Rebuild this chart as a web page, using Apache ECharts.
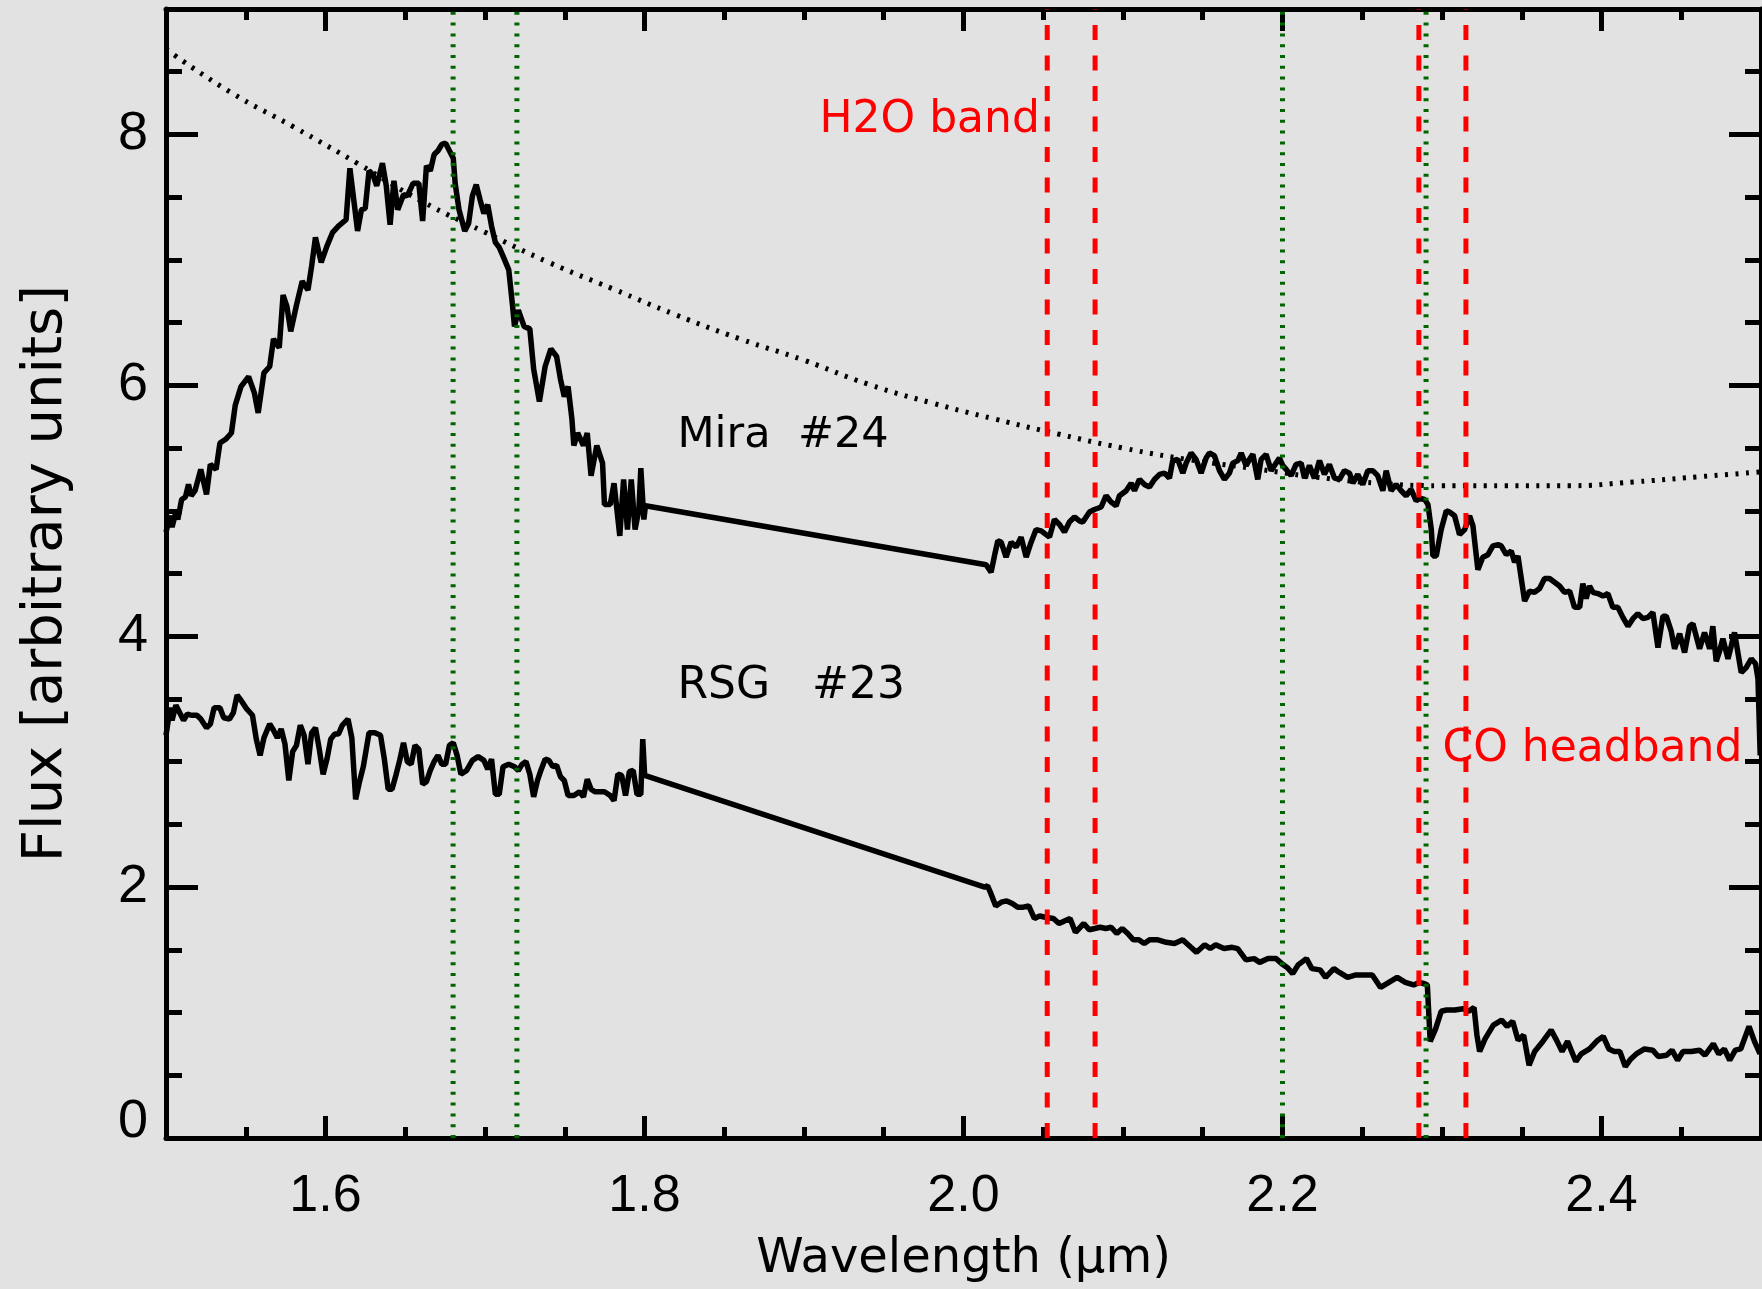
<!DOCTYPE html>
<html><head><meta charset="utf-8">
<script src="https://cdn.jsdelivr.net/npm/echarts@6/dist/echarts.min.js"></script>
<style>html,body{margin:0;padding:0;background:#e2e2e2;}#c{width:1762px;height:1289px;}</style>
</head><body><div id="c"></div>
<script>
// ---- data: [wavelength (micron), flux] ----
const miraSpectrum = [
[1.5000,4.83],[1.5026,4.96],[1.5038,4.87],[1.5062,4.99],[1.5074,4.93],[1.5098,5.09],[1.5122,5.11],[1.5141,5.21],[1.5158,5.12],[1.5182,5.16],[1.5218,5.33],[1.5254,5.13],[1.5278,5.37],[1.5314,5.33],[1.5338,5.54],[1.5374,5.57],[1.5410,5.62],[1.5434,5.84],[1.5470,5.99],[1.5518,6.07],[1.5554,5.94],[1.5578,5.78],[1.5614,6.10],[1.5650,6.15],[1.5674,6.37],[1.5710,6.30],[1.5734,6.72],[1.5758,6.63],[1.5782,6.43],[1.5818,6.64],[1.5854,6.83],[1.5890,6.76],[1.5913,6.95],[1.5937,7.18],[1.5973,6.98],[1.6009,7.11],[1.6045,7.22],[1.6081,7.27],[1.6129,7.32],[1.6153,7.73],[1.6177,7.48],[1.6201,7.23],[1.6225,7.40],[1.6249,7.41],[1.6273,7.71],[1.6297,7.68],[1.6321,7.59],[1.6357,7.77],[1.6381,7.59],[1.6405,7.28],[1.6429,7.63],[1.6453,7.40],[1.6489,7.52],[1.6513,7.51],[1.6549,7.61],[1.6585,7.61],[1.6609,7.31],[1.6633,7.75],[1.6657,7.71],[1.6681,7.84],[1.6705,7.87],[1.6729,7.92],[1.6753,7.93],[1.6777,7.87],[1.6801,7.81],[1.6813,7.61],[1.6837,7.40],[1.6873,7.23],[1.6897,7.29],[1.6921,7.51],[1.6945,7.60],[1.6969,7.48],[1.6993,7.37],[1.7017,7.44],[1.7041,7.27],[1.7065,7.14],[1.7089,7.10],[1.7113,7.03],[1.7149,6.92],[1.7173,6.63],[1.7185,6.47],[1.7209,6.60],[1.7245,6.47],[1.7281,6.45],[1.7305,6.13],[1.7341,5.87],[1.7377,6.15],[1.7413,6.29],[1.7449,6.23],[1.7473,6.05],[1.7497,5.91],[1.7521,5.99],[1.7545,5.73],[1.7557,5.52],[1.7581,5.62],[1.7617,5.52],[1.7641,5.62],[1.7665,5.28],[1.7701,5.52],[1.7737,5.38],[1.7749,5.05],[1.7785,5.05],[1.7809,5.22],[1.7845,4.80],[1.7869,5.25],[1.7893,4.85],[1.7917,5.25],[1.7941,4.85],[1.7965,5.01],[1.7977,5.34],[1.7996,4.93],[1.8006,5.04],
[2.0142,4.57],[2.0173,4.51],[2.0194,4.64],[2.0215,4.76],[2.0236,4.75],[2.0267,4.63],[2.0299,4.75],[2.0330,4.71],[2.0361,4.79],[2.0393,4.63],[2.0424,4.75],[2.0455,4.85],[2.0487,4.84],[2.0539,4.79],[2.0570,4.93],[2.0602,4.89],[2.0633,4.83],[2.0664,4.91],[2.0696,4.95],[2.0727,4.92],[2.0748,4.91],[2.0790,4.99],[2.0821,5.01],[2.0863,5.03],[2.0894,5.12],[2.0925,5.07],[2.0957,5.04],[2.0978,5.12],[2.1020,5.16],[2.1051,5.22],[2.1072,5.16],[2.1103,5.25],[2.1134,5.21],[2.1166,5.19],[2.1197,5.25],[2.1229,5.29],[2.1260,5.30],[2.1291,5.26],[2.1312,5.40],[2.1343,5.41],[2.1375,5.30],[2.1396,5.38],[2.1427,5.46],[2.1458,5.41],[2.1490,5.30],[2.1521,5.42],[2.1542,5.46],[2.1573,5.44],[2.1605,5.32],[2.1636,5.25],[2.1667,5.30],[2.1688,5.38],[2.1720,5.40],[2.1741,5.46],[2.1772,5.36],[2.1793,5.41],[2.1814,5.45],[2.1845,5.25],[2.1866,5.41],[2.1897,5.45],[2.1929,5.32],[2.1960,5.38],[2.1981,5.42],[2.2002,5.36],[2.2023,5.33],[2.2054,5.28],[2.2085,5.37],[2.2117,5.38],[2.2138,5.26],[2.2169,5.36],[2.2200,5.26],[2.2232,5.40],[2.2263,5.29],[2.2294,5.37],[2.2326,5.26],[2.2357,5.25],[2.2388,5.32],[2.2420,5.30],[2.2441,5.22],[2.2472,5.29],[2.2503,5.21],[2.2535,5.32],[2.2566,5.32],[2.2597,5.28],[2.2629,5.16],[2.2650,5.32],[2.2681,5.16],[2.2712,5.21],[2.2744,5.16],[2.2775,5.12],[2.2806,5.17],[2.2838,5.08],[2.2859,5.10],[2.2891,5.09],[2.2912,5.05],[2.2933,4.85],[2.2943,4.64],[2.2964,4.64],[2.2995,4.85],[2.3027,5.00],[2.3047,4.99],[2.3079,4.96],[2.3110,4.81],[2.3142,4.85],[2.3173,4.96],[2.3194,4.88],[2.3225,4.53],[2.3256,4.63],[2.3288,4.65],[2.3319,4.72],[2.3351,4.73],[2.3371,4.72],[2.3403,4.65],[2.3434,4.68],[2.3455,4.59],[2.3476,4.64],[2.3497,4.46],[2.3518,4.28],[2.3549,4.36],[2.3580,4.35],[2.3612,4.38],[2.3643,4.46],[2.3674,4.46],[2.3706,4.43],[2.3737,4.40],[2.3768,4.35],[2.3800,4.36],[2.3831,4.23],[2.3863,4.23],[2.3883,4.42],[2.3904,4.30],[2.3925,4.40],[2.3946,4.35],[2.3977,4.34],[2.4009,4.32],[2.4040,4.34],[2.4071,4.23],[2.4103,4.23],[2.4134,4.15],[2.4166,4.08],[2.4197,4.14],[2.4228,4.18],[2.4260,4.14],[2.4291,4.15],[2.4322,4.19],[2.4354,3.91],[2.4385,4.16],[2.4406,4.16],[2.4437,4.04],[2.4458,3.90],[2.4490,4.02],[2.4521,3.87],[2.4552,4.08],[2.4573,4.10],[2.4594,4.00],[2.4615,3.90],[2.4646,4.03],[2.4678,3.90],[2.4698,4.08],[2.4719,3.80],[2.4740,3.88],[2.4761,3.98],[2.4793,3.82],[2.4813,3.92],[2.4834,4.03],[2.4855,3.87],[2.4876,3.71],[2.4907,3.75],[2.4939,3.82],[2.4966,3.78],[2.4981,3.66],[2.4995,3.05]
];
const rsgSpectrum = [
[1.5000,3.21],[1.5026,3.43],[1.5038,3.33],[1.5062,3.45],[1.5086,3.39],[1.5110,3.33],[1.5134,3.38],[1.5158,3.37],[1.5194,3.37],[1.5218,3.34],[1.5254,3.27],[1.5278,3.30],[1.5302,3.43],[1.5338,3.43],[1.5362,3.35],[1.5398,3.34],[1.5422,3.39],[1.5446,3.53],[1.5470,3.49],[1.5506,3.42],[1.5542,3.37],[1.5566,3.18],[1.5590,3.05],[1.5614,3.19],[1.5650,3.30],[1.5674,3.25],[1.5698,3.19],[1.5722,3.26],[1.5746,3.14],[1.5770,2.85],[1.5794,3.08],[1.5818,3.13],[1.5842,3.29],[1.5866,3.21],[1.5890,2.98],[1.5913,3.23],[1.5937,3.27],[1.5961,3.10],[1.5985,2.90],[1.6009,3.02],[1.6033,3.18],[1.6057,3.22],[1.6081,3.22],[1.6105,3.29],[1.6141,3.34],[1.6165,3.19],[1.6189,2.70],[1.6213,2.84],[1.6237,2.96],[1.6273,3.23],[1.6309,3.23],[1.6345,3.21],[1.6369,3.02],[1.6393,2.78],[1.6417,2.78],[1.6441,2.89],[1.6465,3.01],[1.6489,3.15],[1.6513,3.00],[1.6537,2.98],[1.6561,3.13],[1.6585,3.10],[1.6609,2.82],[1.6633,2.84],[1.6657,2.93],[1.6681,3.00],[1.6705,3.05],[1.6729,2.98],[1.6753,2.98],[1.6777,3.13],[1.6801,3.15],[1.6825,3.05],[1.6849,2.90],[1.6885,2.93],[1.6921,3.01],[1.6957,3.04],[1.6993,3.01],[1.7017,2.94],[1.7041,3.02],[1.7065,2.74],[1.7089,2.74],[1.7113,2.96],[1.7149,2.98],[1.7185,2.96],[1.7209,2.93],[1.7233,2.98],[1.7257,3.00],[1.7281,2.90],[1.7305,2.72],[1.7329,2.85],[1.7353,2.94],[1.7377,3.02],[1.7401,3.01],[1.7425,2.96],[1.7449,2.97],[1.7473,2.88],[1.7497,2.85],[1.7521,2.73],[1.7557,2.73],[1.7593,2.76],[1.7617,2.72],[1.7641,2.86],[1.7665,2.78],[1.7689,2.76],[1.7713,2.76],[1.7749,2.76],[1.7785,2.73],[1.7809,2.69],[1.7833,2.90],[1.7857,2.89],[1.7881,2.73],[1.7905,2.92],[1.7929,2.93],[1.7953,2.74],[1.7977,2.74],[1.7989,3.18],[1.8001,2.89],
[2.0133,2.00],[2.0151,2.01],[2.0168,1.96],[2.0202,1.85],[2.0237,1.88],[2.0271,1.89],[2.0306,1.87],[2.0340,1.84],[2.0375,1.84],[2.0409,1.85],[2.0444,1.75],[2.0478,1.77],[2.0512,1.76],[2.0564,1.75],[2.0599,1.71],[2.0633,1.73],[2.0668,1.75],[2.0702,1.64],[2.0754,1.71],[2.0788,1.66],[2.0823,1.67],[2.0857,1.68],[2.0892,1.67],[2.0926,1.68],[2.0961,1.63],[2.0995,1.67],[2.1030,1.63],[2.1064,1.58],[2.1099,1.58],[2.1133,1.55],[2.1167,1.58],[2.1219,1.58],[2.1271,1.56],[2.1323,1.55],[2.1374,1.58],[2.1426,1.52],[2.1461,1.48],[2.1512,1.54],[2.1547,1.51],[2.1581,1.54],[2.1633,1.51],[2.1685,1.52],[2.1719,1.51],[2.1771,1.42],[2.1822,1.43],[2.1857,1.40],[2.1909,1.43],[2.1960,1.43],[2.1995,1.39],[2.2029,1.36],[2.2064,1.31],[2.2098,1.38],[2.2150,1.43],[2.2184,1.35],[2.2236,1.34],[2.2270,1.28],[2.2322,1.35],[2.2357,1.32],[2.2408,1.28],[2.2460,1.30],[2.2512,1.30],[2.2563,1.30],[2.2615,1.20],[2.2667,1.24],[2.2719,1.28],[2.2770,1.24],[2.2822,1.22],[2.2857,1.24],[2.2891,1.23],[2.2908,1.22],[2.2926,0.77],[2.2960,0.87],[2.2995,1.01],[2.3029,1.02],[2.3081,1.02],[2.3132,1.03],[2.3167,1.01],[2.3201,1.04],[2.3219,0.82],[2.3236,0.69],[2.3270,0.79],[2.3322,0.90],[2.3374,0.94],[2.3408,0.89],[2.3443,0.93],[2.3477,0.78],[2.3512,0.82],[2.3546,0.58],[2.3581,0.69],[2.3632,0.77],[2.3684,0.86],[2.3718,0.78],[2.3753,0.69],[2.3787,0.77],[2.3839,0.61],[2.3873,0.67],[2.3925,0.71],[2.3977,0.78],[2.4011,0.81],[2.4046,0.71],[2.4080,0.69],[2.4115,0.69],[2.4149,0.57],[2.4184,0.63],[2.4218,0.67],[2.4270,0.71],[2.4321,0.70],[2.4356,0.65],[2.4408,0.66],[2.4442,0.70],[2.4477,0.62],[2.4511,0.69],[2.4563,0.69],[2.4615,0.70],[2.4649,0.66],[2.4701,0.75],[2.4735,0.67],[2.4770,0.71],[2.4804,0.62],[2.4839,0.70],[2.4873,0.71],[2.4925,0.89],[2.4959,0.77],[2.4994,0.67]
];
const continuum = [
[1.50,8.68],[1.54,8.34],[1.58,8.06],[1.62,7.77],[1.66,7.47],[1.70,7.22],[1.74,6.98],[1.78,6.77],[1.82,6.56],[1.86,6.37],[1.90,6.20],[1.94,6.01],[1.98,5.86],[2.02,5.73],[2.06,5.61],[2.10,5.50],[2.14,5.41],[2.18,5.34],[2.22,5.27],[2.26,5.22],[2.30,5.20],[2.34,5.20],[2.38,5.20],[2.42,5.23],[2.46,5.27],[2.50,5.31]
];
const featureLines = [1.68, 1.72, 2.20, 2.29];     // green dotted
const bandLines = [2.0525, 2.0825, 2.2855, 2.3150]; // red dashed (H2O, CO)
const xMajorTicks = [1.6, 1.8, 2.0, 2.2, 2.4];
const yMajorTicks = [0, 2, 4, 6, 8];
const X_MIN = 1.5, X_MAX = 2.5, Y_MIN = 0, Y_MAX = 9;

// ---- chart ----
const tickFont = 'Liberation Sans';
const textFont = 'DejaVu Sans';
const black = '#000';
const chart = echarts.init(document.getElementById('c'), null, {renderer: 'canvas'});

function xAx(pos, major, labels) {
  const a = {
    type: 'value', position: pos, min: X_MIN, max: X_MAX,
    axisLine: {show: major, onZero: false, lineStyle: {color: black, width: 5}},
    axisTick: {show: true, inside: true, length: major ? 22 : 11, lineStyle: {color: black, width: 5}},
    axisLabel: {show: false}, splitLine: {show: false}
  };
  if (major) a.axisTick.customValues = xMajorTicks; else a.interval = 0.05;
  if (labels) {
    a.axisLabel = {show: true, customValues: xMajorTicks, formatter: v => v.toFixed(1),
      color: black, fontSize: 52, fontFamily: tickFont, margin: 33};
    a.name = 'Wavelength (\u03bcm)';
    a.nameLocation = 'middle';
    a.nameGap = 98;
    a.nameTextStyle = {color: black, fontSize: 48, fontFamily: textFont};
  }
  return a;
}
function yAx(pos, major, labels) {
  const a = {
    type: 'value', position: pos, min: Y_MIN, max: Y_MAX,
    axisLine: {show: major, onZero: false, lineStyle: {color: black, width: 5}},
    axisTick: {show: true, inside: true, length: major ? 32 : 16, lineStyle: {color: black, width: 5}},
    axisLabel: {show: false}, splitLine: {show: false}
  };
  if (major) a.axisTick.customValues = yMajorTicks; else a.interval = 0.5;
  if (labels) {
    a.axisLabel = {show: true, customValues: yMajorTicks,
      formatter: v => v === 0 ? '{z|0}' : String(v),
      color: black, fontSize: 54, fontFamily: tickFont, margin: 18,
      rich: {z: {fontSize: 54, fontFamily: tickFont, color: black, padding: [0, 0, 31, 0]}}};
    a.name = 'Flux [arbitrary units]';
    a.nameLocation = 'middle';
    a.nameGap = 92;
    a.nameTextStyle = {color: black, fontSize: 56, fontFamily: textFont};
  }
  return a;
}

function vline(x, color, dash, width) {
  return {type: 'line', data: [[x, Y_MIN], [x, Y_MAX]], symbol: 'none', silent: true,
    lineStyle: {color: color, width: width, type: dash, opacity: 1}, z: 5};
}

const series = [
  {type: 'line', data: continuum, smooth: true, symbol: 'none',
   lineStyle: {color: black, width: 5, type: [3, 7.5]}, z: 2},
  {type: 'line', data: miraSpectrum, symbol: 'none', lineStyle: {color: black, width: 5.5}, z: 3},
  {type: 'line', data: rsgSpectrum, symbol: 'none', lineStyle: {color: black, width: 5.5}, z: 3},
];
featureLines.forEach(x => series.push(vline(x, '#006400', [3, 7.8], 5)));
bandLines.forEach(x => series.push(vline(x, '#ff0000', [15, 15.5], 5)));
series.push({
  type: 'scatter', symbolSize: 0, silent: true, z: 6,
  itemStyle: {opacity: 1},
  label: {show: true, position: 'right', distance: 0, fontFamily: textFont, fontSize: 44, opacity: 1},
  data: [
    {value: [1.9097, 8.11], label: {formatter: 'H2O band', color: '#ff0000'}},
    {value: [2.3003, 3.10], label: {formatter: 'CO headband', color: '#ff0000'}},
    {value: [1.8207, 5.60], label: {formatter: 'Mira  #24', color: black, fontSize: 43}},
    {value: [1.8207, 3.60], label: {formatter: 'RSG   #23', color: black}}
  ]
});

chart.setOption({
  animation: false,
  backgroundColor: '#e2e2e2',
  grid: {left: 166, right: 1, top: 9, bottom: 149.5, containLabel: false},
  xAxis: [xAx('bottom', true, true), xAx('bottom', false, false), xAx('top', true, false), xAx('top', false, false)],
  yAxis: [yAx('left', true, true), yAx('left', false, false), yAx('right', true, false), yAx('right', false, false)],
  series: series
});
</script>
</body></html>
